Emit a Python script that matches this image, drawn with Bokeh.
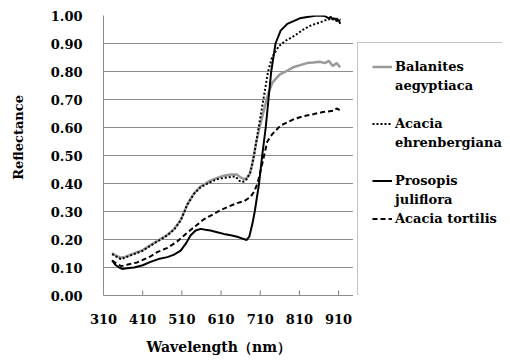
from bokeh.plotting import figure
from bokeh.layouts import row
from bokeh.models import Range1d, FixedTicker, Legend, LegendItem, NumeralTickFormatter
from bokeh.embed import file_html
from bokeh.resources import INLINE

# ---- data ----
x_ticks = [310, 410, 510, 610, 710, 810, 910]
y_ticks = [0.0, 0.1, 0.2, 0.3, 0.4, 0.5, 0.6, 0.7, 0.8, 0.9, 1.0]
grid_levels = [0.1, 0.2, 0.3, 0.4, 0.5, 0.6, 0.7, 0.8, 0.9]

balanites_w = [332, 342, 354, 365, 388, 410, 430, 450, 473, 490,
               507, 524, 541, 558, 583, 600, 617, 635, 650, 662,
               672, 682, 690, 700, 710, 719, 730, 741, 760, 775,
               794, 810, 829, 845, 862, 875, 885, 895, 905, 914]
balanites_r = [0.152, 0.142, 0.135, 0.138, 0.15, 0.162, 0.18, 0.197, 0.217, 0.237,
               0.27, 0.325, 0.365, 0.39, 0.41, 0.42, 0.428, 0.432, 0.432, 0.42,
               0.415, 0.43, 0.47, 0.55, 0.61, 0.66, 0.72, 0.76, 0.79, 0.80,
               0.815, 0.822, 0.83, 0.832, 0.835, 0.83, 0.838, 0.82, 0.83, 0.815]

ehrenbergiana_w = [332, 342, 354, 365, 388, 410, 430, 450, 473, 490,
                   507, 524, 541, 558, 583, 600, 617, 635, 647, 656,
                   664, 673, 685, 694, 706, 718, 730, 740, 757, 775,
                   800, 820, 840, 862, 880, 900, 915]
ehrenbergiana_r = [0.148, 0.14, 0.13, 0.135, 0.148, 0.16, 0.178, 0.195, 0.215, 0.235,
                   0.268, 0.325, 0.363, 0.387, 0.405, 0.415, 0.42, 0.423, 0.425, 0.41,
                   0.405, 0.41, 0.44, 0.50, 0.60, 0.70, 0.80, 0.85, 0.89, 0.91,
                   0.93, 0.95, 0.965, 0.975, 0.985, 0.99, 0.985]

prosopis_w = [332, 340, 350, 358, 370, 388, 410, 430, 450, 473,
              490, 507, 520, 532, 545, 558, 570, 583, 600, 617,
              635, 651, 665, 675, 682, 690, 696, 707, 715, 724,
              731, 738, 749, 762, 779, 795, 811, 830, 855, 875,
              885, 890, 895, 900, 905, 910, 914]
prosopis_r = [0.125, 0.11, 0.10, 0.095, 0.097, 0.10, 0.108, 0.12, 0.13, 0.137,
              0.146, 0.16, 0.185, 0.214, 0.232, 0.238, 0.235, 0.232, 0.226, 0.22,
              0.215, 0.21, 0.203, 0.198, 0.21, 0.256, 0.30, 0.40, 0.50, 0.60,
              0.70, 0.80, 0.90, 0.946, 0.97, 0.98, 0.99, 0.995, 1.0, 0.998,
              0.99, 0.995, 0.985, 0.99, 0.98, 0.985, 0.97]

tortilis_w = [332, 345, 356, 370, 396, 430, 447, 473, 498, 524,
              545, 566, 590, 609, 630, 651, 670, 685, 694, 703,
              710, 719, 728, 741, 762, 796, 820, 847, 870, 898,
              905, 915]
tortilis_r = [0.125, 0.112, 0.105, 0.11, 0.118, 0.14, 0.155, 0.17, 0.193, 0.225,
              0.248, 0.272, 0.29, 0.305, 0.318, 0.33, 0.338, 0.352, 0.37, 0.40,
              0.44, 0.494, 0.55, 0.577, 0.607, 0.63, 0.64, 0.648, 0.655, 0.66,
              0.668, 0.66]

# legend rows: (text, series index or None for a continuation / blank row)
legend_rows = [("Balanites", 0), ("aegyptiaca", None), (" ", None),
               ("Acacia", 1), ("ehrenbergiana", None), (" ", None),
               ("Prosopis", 2), ("juliflora", None),
               ("Acacia tortilis", 3),
               (" ", None), (" ", None), (" ", None), (" ", None)]

x_title = "Wavelength（nm）"
y_title = "Reflectance"

FONT = "DejaVu Serif"
GRID = "#8c8c8c"
NBSP = "\u00a0"
TICK_LEN = 0.018  # inward x-tick length in reflectance units (about 5 px)
STYLES = [dict(line_color="#9a9a9a", line_width=2.5),
          dict(line_color="black", line_width=2, line_dash="2 2"),
          dict(line_color="black", line_width=2),
          dict(line_color="black", line_width=2, line_dash="5 3")]

p = figure(frame_width=250, frame_height=280, output_backend="svg", toolbar_location=None,
           x_range=Range1d(310, 948), y_range=Range1d(0, 1.0),
           min_border_left=103, min_border_right=0, min_border_top=15, min_border_bottom=58)
p.outline_line_color = None
p.xgrid.visible = False
p.ygrid.visible = False
p.hspan(y=grid_levels, line_color=GRID, line_width=1)

for ax in (p.xaxis[0], p.yaxis[0]):
    ax.axis_line_color = GRID
    ax.major_tick_line_color = None
    ax.minor_tick_line_color = None
    ax.major_label_text_font = FONT
    ax.major_label_text_font_style = "bold"
    ax.major_label_text_font_size = "13px"
    ax.major_label_text_color = "black"
    ax.axis_label_text_font = FONT
    ax.axis_label_text_font_style = "bold"
    ax.axis_label_text_color = "black"

p.xaxis.ticker = FixedTicker(ticks=x_ticks)
p.xaxis.major_label_standoff = 12
p.xaxis.axis_label = x_title + NBSP * 4
p.xaxis.axis_label_text_font_size = "14px"
p.xaxis.axis_label_standoff = 12
p.yaxis.ticker = FixedTicker(ticks=y_ticks)
p.yaxis.formatter = NumeralTickFormatter(format="0.00")
p.yaxis.major_label_standoff = 15
p.yaxis.axis_label = NBSP * 8 + y_title
p.yaxis.axis_label_text_font_size = "13px"
p.yaxis.axis_label_standoff = 22

# inward tick marks on the x axis
p.segment(x0=x_ticks[1:], y0=[0] * (len(x_ticks) - 1),
          x1=x_ticks[1:], y1=[TICK_LEN] * (len(x_ticks) - 1),
          line_color="#7a7a7a", line_width=1)

series = [(balanites_w, balanites_r), (ehrenbergiana_w, ehrenbergiana_r),
          (prosopis_w, prosopis_r), (tortilis_w, tortilis_r)]
for (w, r), st in zip(series, STYLES):
    p.line(w, r, **st)

# legend panel (separate figure to the right of the plot)
lg = figure(frame_width=149, frame_height=280, output_backend="svg", toolbar_location=None,
            x_axis_type=None, y_axis_type=None, x_range=Range1d(0, 1), y_range=Range1d(0, 1),
            min_border_left=0, min_border_right=0, min_border_top=15, min_border_bottom=58)
lg.outline_line_color = None
lg.xgrid.visible = False
lg.ygrid.visible = False
nan = float("nan")
proxies = [lg.line([nan], [nan], **st) for st in STYLES]
blank = lg.line([nan], [nan], line_alpha=0)

items = [LegendItem(label=t, renderers=[proxies[i] if i is not None else blank]) for t, i in legend_rows]
legend = Legend(items=items, location=(4, -24), orientation="vertical",
                border_line_color=GRID, border_line_width=1,
                background_fill_color="white", background_fill_alpha=1,
                padding=14, spacing=0, margin=0,
                glyph_width=20, glyph_height=19, label_height=19, label_standoff=3,
                label_text_font=FONT, label_text_font_style="bold",
                label_text_font_size="13px", label_text_color="black")
lg.add_layout(legend, "center")

layout = row(p, lg, spacing=0)
open("out.html", "w").write(file_html(layout, INLINE))
